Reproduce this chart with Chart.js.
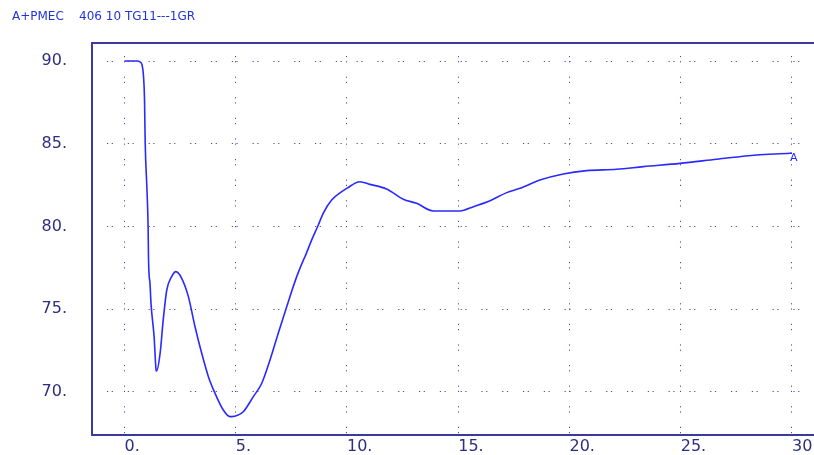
<!DOCTYPE html>
<html>
<head>
<meta charset="utf-8">
<script src="https://cdn.jsdelivr.net/npm/chart.js@4/dist/chart.umd.min.js"></script>
<style>
  html, body { margin: 0; padding: 0; background: #ffffff; }
  #wrap { width: 814px; height: 455px; }
</style>
</head>
<body>
<div id="wrap"><canvas id="c" width="814" height="455"></canvas></div>
<script>
// ---- data ----
const titleText = 'A+PMEC    406 10 TG11---1GR';
const seriesLabel = 'A';
const timeValues = [
  0, 0.25, 0.56, 0.70, 0.79, 0.85, 0.90, 0.93, 1.01, 1.06, 1.08, 1.15, 1.19, 1.33, 1.42, 1.44,
  1.60, 1.74, 1.90, 2.12, 2.31, 2.57, 2.87, 3.17, 3.47, 3.77, 4.07, 4.44, 4.74, 4.82, 5.11,
  5.34, 5.79, 6.17, 6.54, 6.91, 7.29, 7.74, 8.04, 8.11, 8.41, 8.71, 8.93, 9.31, 9.76, 9.99,
  10.58, 11.03, 11.78, 12.53, 13.13, 13.88, 15.08, 15.68, 16.43, 17.18, 17.78, 18.67, 19.72,
  20.77, 22.12, 23.32, 24.97, 26.62, 28.41, 29.91, 30.0
];
const pmecValues = [
  90.0, 90.0, 90.0, 89.94, 89.76, 89.15, 87.64, 85.04, 82.2, 80.02, 77.97, 76.45, 75.36, 73.33, 71.31, 71.25,
  72.32, 74.34, 76.15, 76.96, 77.26, 76.86, 75.75, 73.93, 72.32, 70.91, 69.90, 68.89, 68.49, 68.49, 68.59,
  68.79, 69.70, 70.51, 71.92, 73.53, 75.14, 76.96, 77.96, 78.16, 79.17, 80.08, 80.79, 81.59, 82.10, 82.30,
  82.70, 82.54, 82.26, 81.64, 81.39, 80.93, 80.93, 81.19, 81.55, 82.04, 82.30, 82.80, 83.17,
  83.37, 83.45, 83.61, 83.81, 84.06, 84.32, 84.42, 84.43
];
const xTickValues = [0, 5, 10, 15, 20, 25, 30];
const yTickValues = [70, 75, 80, 85, 90];

// ---- styles ----
const frameColor = '#3a3a9c';
const gridColor = '#4c4ca4';
const tickColor = '#2e2e80';
const lineColor = '#2a2aff';
const tickFont = { family: 'DejaVu Sans', size: 16 };

const points = timeValues.map((t, i) => ({ x: t, y: pmecValues[i] }));

const framePlugin = {
  id: 'frameAndMarker',
  afterDatasetsDraw(chart) {
    const { ctx, chartArea } = chart;
    ctx.save();
    ctx.strokeStyle = frameColor;
    ctx.lineWidth = 2;
    ctx.beginPath();
    ctx.moveTo(chartArea.left - 1, chartArea.top);
    ctx.lineTo(chartArea.right, chartArea.top);
    ctx.stroke();
    // series letter at the curve end
    const meta = chart.getDatasetMeta(0);
    const last = meta.data[meta.data.length - 1];
    ctx.fillStyle = lineColor;
    ctx.font = '11px "DejaVu Sans"';
    ctx.textAlign = 'left';
    ctx.textBaseline = 'top';
    ctx.fillText(seriesLabel, last.x - 2, last.y + 0);
    ctx.restore();
  }
};

const zeroPad = s => { s.paddingTop = 0; s.paddingBottom = 0; s.paddingLeft = 0; s.paddingRight = 0; };

new Chart(document.getElementById('c'), {
  type: 'line',
  data: {
    datasets: [{
      data: points,
      borderColor: lineColor,
      borderWidth: 1.6,
      pointRadius: 0,
      fill: false,
      cubicInterpolationMode: 'monotone'
    }]
  },
  options: {
    responsive: false,
    devicePixelRatio: 1,
    animation: false,
    layout: { padding: { left: 12, top: 0, right: 0, bottom: 0 } },
    plugins: {
      legend: { display: false },
      tooltip: { enabled: false },
      title: {
        display: true,
        text: titleText,
        align: 'start',
        color: '#2233dd',
        font: { family: 'DejaVu Sans', size: 12, weight: 'normal' },
        padding: { top: 10, bottom: 18.6 }
      }
    },
    scales: {
      x: {
        type: 'linear',
        min: -1.461,
        max: 30.99,
        afterBuildTicks: s => { s.ticks = xTickValues.map(v => ({ value: v })); },
        afterFit: s => { s.height = 20; zeroPad(s); },
        ticks: {
          callback: v => v + '.',
          color: tickColor,
          font: tickFont,
          padding: 2,
          align: 'start',
          maxRotation: 0,
          autoSkip: false,
          includeBounds: false
        },
        grid: { color: gridColor, lineWidth: 1, drawTicks: false },
        border: { display: true, color: frameColor, width: 2, dash: [1.2, 4, 1.2, 14.2], dashOffset: 7.6 }
      },
      y: {
        type: 'linear',
        min: 67.38,
        max: 91.09,
        afterBuildTicks: s => { s.ticks = yTickValues.map(v => ({ value: v })); },
        afterFit: s => { s.width = 80; zeroPad(s); },
        ticks: {
          callback: v => v + '.',
          color: tickColor,
          font: tickFont,
          padding: 25,
          autoSkip: false,
          includeBounds: false
        },
        grid: { color: gridColor, lineWidth: 1, drawTicks: false },
        border: { display: true, color: frameColor, width: 2, dash: [1.2, 3.5, 1.2, 14.9], dashOffset: 6.8 }
      }
    }
  },
  plugins: [framePlugin]
});
</script>
</body>
</html>
